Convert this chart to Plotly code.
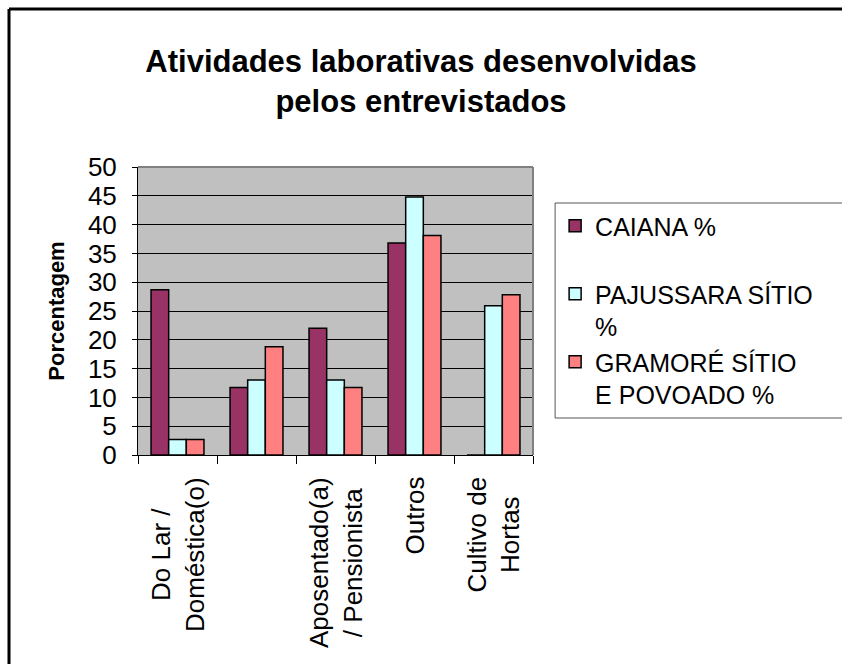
import plotly.graph_objects as go

categories = ["Do Lar /<br>Doméstica(o)", " ", "Aposentado(a)<br>/ Pensionista", "Outros", "Cultivo de<br>Hortas"]
series_names = ["CAIANA %", "PAJUSSARA SÍTIO<br>%", "GRAMORÉ SÍTIO<br>E POVOADO %"]
caiana = [28.7, 11.7, 22.0, 36.8, 0]
pajussara = [2.7, 13.0, 13.0, 44.8, 25.9]
gramore = [2.7, 18.8, 11.7, 38.1, 27.8]
colors = ["#993366", "#CCFFFF", "#FF8080"]
y_ticks = [0, 5, 10, 15, 20, 25, 30, 35, 40, 45, 50]

FONT = "Liberation Sans, Arial, sans-serif"

fig = go.Figure()
legend_labels = [series_names[0] + "<br>&nbsp;", series_names[1], series_names[2]]
for i, (vals, name) in enumerate(zip([caiana, pajussara, gramore], legend_labels)):
    fig.add_trace(go.Bar(
        x=categories, y=vals, name=name, legendgroup=str(i),
        marker=dict(color=colors[i], line=dict(color="black", width=1.5)),
    ))

# category labels, lines centred as in the original
for c in categories:
    fig.add_annotation(
        x=c, xref="x", y=0, yref="paper", yanchor="top", xanchor="center",
        yshift=-20, text=c, textangle=-90, align="center", showarrow=False,
        font=dict(family=FONT, size=26, color="black"),
    )

LEG_X, LEG_TOP, LEG_BOTTOM = 1.056, 0.875, (455 - 418) / 288

fig.update_layout(
    width=842, height=664,
    margin=dict(l=138, r=309, t=167, b=209, autoexpand=False),
    paper_bgcolor="white", plot_bgcolor="#C0C0C0",
    barmode="group", bargap=0.33, bargroupgap=0,
    font=dict(family=FONT, size=26, color="black"),
    title=dict(
        text="<b>Atividades laborativas desenvolvidas<br>pelos entrevistados</b>",
        x=0.5, xanchor="center", xref="container",
        y=1 - 72 / 664, yanchor="middle", yref="container",
        font=dict(family=FONT, size=31, color="black"),
    ),
    showlegend=True,
    legend=dict(
        x=LEG_X, xanchor="left", y=LEG_TOP, yanchor="top",
        bgcolor="rgba(0,0,0,0)", borderwidth=0,
        font=dict(family=FONT, size=25, color="black"),
        valign="top", tracegroupgap=6, traceorder="normal",
    ),
    xaxis=dict(
        showticklabels=False, ticks="outside", tickson="boundaries",
        ticklen=8, tickcolor="black", showline=True, linecolor="black",
        linewidth=1, showgrid=False, fixedrange=True,
    ),
    yaxis=dict(
        range=[0, 50], tickvals=y_ticks, ticks="outside", ticklen=5,
        tickcolor="black", showline=True, linecolor="black", linewidth=1,
        showgrid=True, gridcolor="black", gridwidth=1, zeroline=False,
        tickfont=dict(family=FONT, size=26), ticklabelstandoff=10,
        title=dict(text="<b>Porcentagem</b>", font=dict(family=FONT, size=22), standoff=17),
    ),
)

# plot-area frame (grey, top and right)
fig.add_shape(type="line", xref="paper", yref="paper", x0=0, x1=1, y0=1, y1=1,
              line=dict(color="#808080", width=2), layer="above")
fig.add_shape(type="line", xref="paper", yref="paper", x0=1, x1=1, y0=0, y1=1,
              line=dict(color="#808080", width=2), layer="above")
# legend box, running past the right edge as in the original
fig.add_shape(type="rect", xref="paper", yref="paper", x0=LEG_X, x1=1.9,
              y0=LEG_BOTTOM, y1=LEG_TOP, fillcolor="white",
              line=dict(color="#555555", width=1), layer="above")
# outer chart frame: only left and top edges are visible in the original
fx0, fy1 = (9 - 138) / 395, (455 - 9) / 288
fig.add_shape(type="line", xref="paper", yref="paper", x0=fx0, x1=fx0, y0=(455 - 700) / 288, y1=fy1,
              line=dict(color="black", width=3), layer="above")
fig.add_shape(type="line", xref="paper", yref="paper", x0=fx0, x1=(900 - 138) / 395, y0=fy1, y1=fy1,
              line=dict(color="black", width=3), layer="above")

fig.write_html(
    "out.html", config={"displayModeBar": False},
    post_script=("document.body.style.margin='0';document.body.style.padding='0';"
                 "document.body.style.overflow='hidden';"
                 "document.documentElement.style.overflow='hidden';"),
)
